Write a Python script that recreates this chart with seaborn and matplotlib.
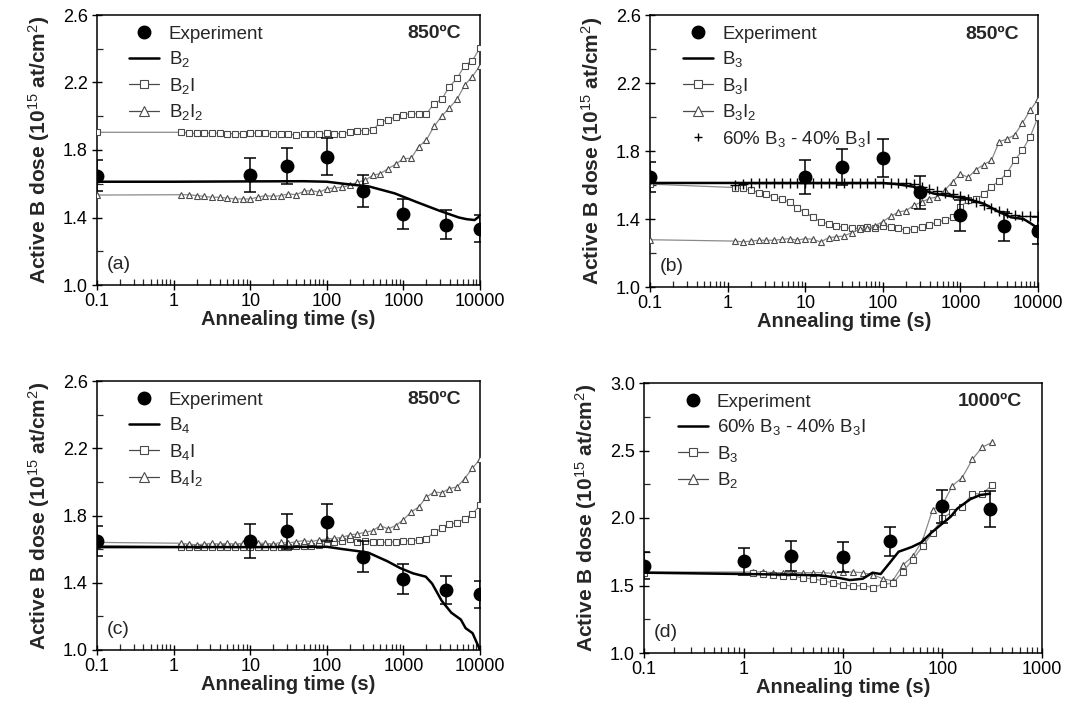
import numpy as np
import pandas as pd
import matplotlib
matplotlib.use("Agg")
import matplotlib.pyplot as plt
from matplotlib.lines import Line2D
from matplotlib.ticker import LogLocator, FixedLocator, FixedFormatter, NullFormatter, FormatStrFormatter
import seaborn as sns

sns.set_style("ticks")
plt.rcParams['font.family'] = ['Liberation Sans', 'DejaVu Sans']
plt.rcParams['mathtext.fontset'] = 'custom'
plt.rcParams['mathtext.rm'] = 'Liberation Sans'
plt.rcParams['mathtext.it'] = 'Liberation Sans:italic'
plt.rcParams['mathtext.bf'] = 'Liberation Sans:bold'

# ---------------- data ----------------
# experiment, 850 C
exp_t = [0.1, 10, 30, 100, 300, 1000, 3600, 10000]
exp_y = [1.648, 1.65, 1.705, 1.76, 1.556, 1.422, 1.358, 1.332]
exp_err = [0.09, 0.10, 0.105, 0.11, 0.095, 0.09, 0.085, 0.08]

# simulation time grid (850 C)
sim_t = [0.1, 1.26, 1.58, 2.0, 2.51, 3.16, 3.98, 5.01, 6.31, 7.94,
         10, 12.6, 15.8, 20, 25.1, 31.6, 39.8, 50.1, 63.1, 79.4,
         100, 126, 158, 200, 251, 316, 398, 501, 631, 794,
         1000, 1260, 1580, 2000, 2510, 3160, 3980, 5010, 6310, 7940, 10000]

# panel (a)
a_B2_t = [0.1, 1, 10, 50, 100, 166, 355, 770, 1520, 2960, 5300, 6700, 8500, 10000]
a_B2_y = [1.612, 1.612, 1.614, 1.615, 1.612, 1.60, 1.584, 1.543, 1.49, 1.44, 1.40, 1.39, 1.385, 1.41]
a_B2I = [1.905, 1.905, 1.90, 1.898, 1.90, 1.90, 1.90, 1.897, 1.897, 1.897,
         1.90, 1.90, 1.90, 1.892, 1.897, 1.897, 1.887, 1.892, 1.897, 1.897,
         1.90, 1.897, 1.897, 1.905, 1.915, 1.915, 1.918, 1.965, 1.98, 1.995,
         2.01, 2.015, 2.015, 2.015, 2.075, 2.10, 2.175, 2.225, 2.30, 2.33, 2.405]
a_B2I2 = [1.533, 1.535, 1.535, 1.53, 1.525, 1.52, 1.52, 1.515, 1.51, 1.51,
          1.51, 1.52, 1.53, 1.525, 1.53, 1.54, 1.535, 1.555, 1.56, 1.55,
          1.57, 1.575, 1.58, 1.59, 1.61, 1.62, 1.65, 1.66, 1.69, 1.715,
          1.75, 1.75, 1.82, 1.86, 1.94, 2.0, 2.05, 2.10, 2.185, 2.235, 2.30]

# panel (b)
b_B3_t = [0.1, 1, 10, 100, 150, 250, 450, 1200, 2000, 3200, 4500, 6500, 8000, 10000]
b_B3_y = [1.612, 1.612, 1.612, 1.612, 1.605, 1.59, 1.55, 1.52, 1.49, 1.44, 1.41, 1.40, 1.375, 1.345]
b_B3I = [1.605, 1.585, 1.58, 1.57, 1.555, 1.545, 1.53, 1.515, 1.50, 1.465,
         1.44, 1.41, 1.385, 1.37, 1.36, 1.35, 1.345, 1.345, 1.35, 1.345,
         1.36, 1.355, 1.345, 1.335, 1.34, 1.355, 1.365, 1.38, 1.395, 1.41,
         1.47, 1.51, 1.515, 1.545, 1.59, 1.625, 1.67, 1.745, 1.805, 1.885, 2.00]
b_B3I2 = [1.278, 1.27, 1.265, 1.27, 1.275, 1.275, 1.275, 1.28, 1.285, 1.275,
          1.285, 1.28, 1.265, 1.29, 1.295, 1.30, 1.32, 1.34, 1.345, 1.36,
          1.385, 1.415, 1.44, 1.45, 1.48, 1.50, 1.52, 1.53, 1.57, 1.62,
          1.665, 1.645, 1.69, 1.72, 1.745, 1.855, 1.87, 1.895, 1.965, 2.04, 2.105]
b_mix = [None, 1.60, 1.605, 1.61, 1.612, 1.612, 1.612, 1.612, 1.612, 1.612,
         1.612, 1.612, 1.612, 1.612, 1.612, 1.612, 1.612, 1.612, 1.612, 1.612,
         1.612, 1.61, 1.61, 1.61, 1.605, 1.59, 1.575, 1.565, 1.555, 1.545,
         1.535, 1.515, 1.50, 1.48, 1.465, 1.45, 1.435, 1.425, 1.42, 1.415, 1.415]

# panel (c)
c_B4_t = [0.1, 1, 10, 100, 162, 237, 348, 617, 910, 1334, 1960, 2370, 3160, 4220, 5620, 6490, 8000, 10000]
c_B4_y = [1.612, 1.612, 1.612, 1.614, 1.60, 1.59, 1.579, 1.528, 1.487, 1.456, 1.436, 1.395, 1.293, 1.222, 1.181, 1.13, 1.10, 1.0]
c_B4I = [1.622, 1.615, 1.615, 1.615, 1.615, 1.615, 1.615, 1.615, 1.615, 1.615,
         1.615, 1.615, 1.615, 1.615, 1.615, 1.615, 1.62, 1.62, 1.62, 1.625,
         1.63, 1.64, 1.65, 1.66, 1.64, 1.65, 1.645, 1.64, 1.64, 1.645,
         1.65, 1.65, 1.655, 1.66, 1.70, 1.723, 1.748, 1.758, 1.78, 1.81, 1.86]
c_B4I2 = [1.64, 1.635, 1.63, 1.625, 1.63, 1.635, 1.63, 1.635, 1.63, 1.635,
          1.63, 1.635, 1.635, 1.63, 1.64, 1.635, 1.645, 1.65, 1.645, 1.655,
          1.66, 1.665, 1.67, 1.685, 1.69, 1.70, 1.71, 1.74, 1.72, 1.74,
          1.776, 1.82, 1.85, 1.91, 1.94, 1.935, 1.96, 1.97, 2.02, 2.08, 2.135]

# panel (d), 1000 C
d_exp_t = [0.1, 1, 3, 10, 30, 100, 300]
d_exp_y = [1.645, 1.68, 1.72, 1.71, 1.827, 2.086, 2.067]
d_exp_err = [0.1, 0.1, 0.11, 0.11, 0.11, 0.12, 0.13]
d_sim_t = [0.1, 1.26, 1.58, 2.0, 2.51, 3.16, 3.98, 5.01, 6.31, 7.94,
           10, 12.6, 15.8, 20, 25.1, 31.6, 39.8, 50.1, 63.1, 79.4,
           100, 126, 158, 200, 251, 316]
d_mix_t = [0.1, 1, 3, 6, 9.3, 11.7, 15.8, 19.8, 23.9, 28.9, 36.2, 49, 61.5, 77, 100, 121, 141, 191, 239, 300]
d_mix_y = [1.595, 1.585, 1.58, 1.575, 1.555, 1.54, 1.55, 1.595, 1.585, 1.66, 1.75, 1.785, 1.82, 1.89, 1.96, 2.01, 2.07, 2.14, 2.17, 2.18]
d_B3 = [1.59, 1.59, 1.585, 1.575, 1.57, 1.57, 1.555, 1.55, 1.535, 1.52,
        1.505, 1.495, 1.50, 1.485, 1.51, 1.515, 1.60, 1.69, 1.79, 1.89,
        2.0, 2.045, 2.085, 2.18, 2.18, 2.245]
d_B2 = [1.60, 1.60, 1.60, 1.595, 1.595, 1.595, 1.595, 1.595, 1.595, 1.59,
        1.60, 1.60, 1.595, 1.58, 1.55, 1.535, 1.65, 1.715, 1.835, 2.06,
        2.10, 2.24, 2.30, 2.435, 2.525, 2.56]

# axis tick values
xl5 = ['0.1', '1', '10', '100', '1000', '10000']
xl4 = ['0.1', '1', '10', '100', '1000']
y850_major = [1.0, 1.4, 1.8, 2.2, 2.6]
y850_minor = [1.2, 1.6, 2.0, 2.4]
y1000_major = [1.0, 1.5, 2.0, 2.5, 3.0]
y1000_minor = [1.25, 1.75, 2.25, 2.75]

# ---------------- styling helpers ----------------
GRAY_LINE = '#8a8a8a'
GRAY_EDGE = '#4a4a4a'
FS = 13

fig = plt.figure(figsize=(10.85, 7.19), dpi=100)

def px_axes(l, t, r, b):
    W, H = 1085, 719
    return fig.add_axes([l / W, 1 - b / H, (r - l) / W, (b - t) / H])

def sim_line(ax, t, y, marker, ms):
    df = pd.DataFrame({'t': t, 'y': y}).dropna()
    sns.lineplot(data=df, x='t', y='y', ax=ax, sort=False, estimator=None,
                 color=GRAY_LINE, linewidth=0.9, marker=marker, markersize=ms,
                 markerfacecolor='white', markeredgecolor=GRAY_EDGE,
                 markeredgewidth=0.8, legend=False, zorder=3)

def solid_line(ax, t, y):
    sns.lineplot(x=t, y=y, ax=ax, sort=False, estimator=None, color='black',
                 linewidth=1.8, legend=False, zorder=4)

def experiment(ax, t, y, err):
    ax.errorbar(t, y, yerr=err, fmt='none', ecolor='black', elinewidth=1.1,
                capsize=4, capthick=1.1, zorder=5)
    sns.scatterplot(x=t, y=y, ax=ax, color='black', s=100, edgecolor='black',
                    linewidth=0, legend=False, zorder=6)

def style_axes(ax, xmax, ylim, ymaj, ymin, xlabels, label, temp):
    ax.set_xscale('log')
    ax.set_xlim(0.1, xmax)
    ax.set_ylim(*ylim)
    ticks = [0.1 * 10 ** i for i in range(len(xlabels))]
    ax.xaxis.set_major_locator(FixedLocator(ticks))
    ax.xaxis.set_major_formatter(FixedFormatter(xlabels))
    ax.xaxis.set_minor_locator(LogLocator(base=10, subs=np.arange(2, 10), numticks=20))
    ax.xaxis.set_minor_formatter(NullFormatter())
    ax.yaxis.set_major_locator(FixedLocator(ymaj))
    ax.yaxis.set_minor_locator(FixedLocator(ymin))
    ax.yaxis.set_major_formatter(FormatStrFormatter('%.1f'))
    for s in ax.spines.values():
        s.set_visible(True)
        s.set_linewidth(1.1)
        s.set_color('black')
    ax.tick_params(axis='both', which='major', direction='inout', length=7, width=1.0,
                   labelsize=FS, colors='black', pad=3)
    ax.tick_params(axis='x', which='major', pad=2)
    ax.tick_params(axis='both', which='minor', direction='in', length=4, width=0.9)
    ax.tick_params(axis='both', which='both', top=False, right=False)
    ax.set_xlabel('Annealing time (s)', fontsize=14.5, fontweight='bold', labelpad=0)
    ax.set_ylabel('Active B dose (10$^{15}$ at/cm$^{2}$)', fontsize=15,
                  fontweight='bold', labelpad=8)
    ax.text(0.025, 0.075, label, transform=ax.transAxes, fontsize=14,
            ha='left', va='center')
    ax.text(0.95, 0.93, temp, transform=ax.transAxes, fontsize=14,
            fontweight='bold', ha='right', va='center')

def add_legend(ax, handles, labels):
    return ax.legend(handles, labels, loc='upper left', bbox_to_anchor=(0.075, 0.975),
                     frameon=False, fontsize=13.5, handlelength=1.6, handletextpad=0.5,
                     labelspacing=0.35, borderpad=0.2, borderaxespad=0)

h_exp = Line2D([], [], color='black', marker='o', ls='none', ms=9)
h_solid = Line2D([], [], color='black', lw=1.8)
def h_sq():
    return Line2D([], [], color=GRAY_EDGE, lw=0.9, marker='s', ms=6,
                  mfc='white', mec=GRAY_EDGE, mew=0.8)
def h_tri():
    return Line2D([], [], color=GRAY_EDGE, lw=0.9, marker='^', ms=6.5,
                  mfc='white', mec=GRAY_EDGE, mew=0.8)
h_plus = Line2D([], [], color='black', marker='+', ls='none', ms=6, mew=1.0)

# ---- (a)
ax = px_axes(97, 15, 480, 285)
sim_line(ax, sim_t, a_B2I, 's', 4.2)
sim_line(ax, sim_t, a_B2I2, '^', 4.8)
solid_line(ax, a_B2_t, a_B2_y)
experiment(ax, exp_t, exp_y, exp_err)
style_axes(ax, 10000, (1.0, 2.6), y850_major, y850_minor, xl5, '(a)', '850ºC')
add_legend(ax, [h_exp, h_solid, h_sq(), h_tri()],
           ['Experiment', 'B$_2$', 'B$_2$I', 'B$_2$I$_2$'])

# ---- (b)
ax = px_axes(650, 15, 1038, 287)
sim_line(ax, sim_t, b_B3I, 's', 4.2)
sim_line(ax, sim_t, b_B3I2, '^', 4.8)
solid_line(ax, b_B3_t, b_B3_y)
mix_df = pd.DataFrame({'t': sim_t, 'y': b_mix}).dropna()
sns.scatterplot(data=mix_df, x='t', y='y', ax=ax, marker='+', color='black',
                s=45, linewidth=1.0, legend=False, zorder=4)
experiment(ax, exp_t, exp_y, exp_err)
style_axes(ax, 10000, (1.0, 2.6), y850_major, y850_minor, xl5, '(b)', '850ºC')
add_legend(ax, [h_exp, h_solid, h_sq(), h_tri(), h_plus],
           ['Experiment', 'B$_3$', 'B$_3$I', 'B$_3$I$_2$', '60% B$_3$ - 40% B$_3$I'])

# ---- (c)
ax = px_axes(97, 381, 480, 650)
sim_line(ax, sim_t, c_B4I, 's', 4.2)
sim_line(ax, sim_t, c_B4I2, '^', 4.8)
solid_line(ax, c_B4_t, c_B4_y)
experiment(ax, exp_t, exp_y, exp_err)
style_axes(ax, 10000, (1.0, 2.6), y850_major, y850_minor, xl5, '(c)', '850ºC')
add_legend(ax, [h_exp, h_solid, h_sq(), h_tri()],
           ['Experiment', 'B$_4$', 'B$_4$I', 'B$_4$I$_2$'])

# ---- (d)
ax = px_axes(644, 383, 1042, 653)
sim_line(ax, d_sim_t, d_B2, '^', 4.8)
sim_line(ax, d_sim_t, d_B3, 's', 4.2)
solid_line(ax, d_mix_t, d_mix_y)
experiment(ax, d_exp_t, d_exp_y, d_exp_err)
style_axes(ax, 1000, (1.0, 3.0), y1000_major, y1000_minor, xl4, '(d)', '1000ºC')
add_legend(ax, [h_exp, h_solid, h_sq(), h_tri()],
           ['Experiment', '60% B$_3$ - 40% B$_3$I', 'B$_3$', 'B$_2$'])

fig.savefig('out.png', dpi=100, facecolor='white')
